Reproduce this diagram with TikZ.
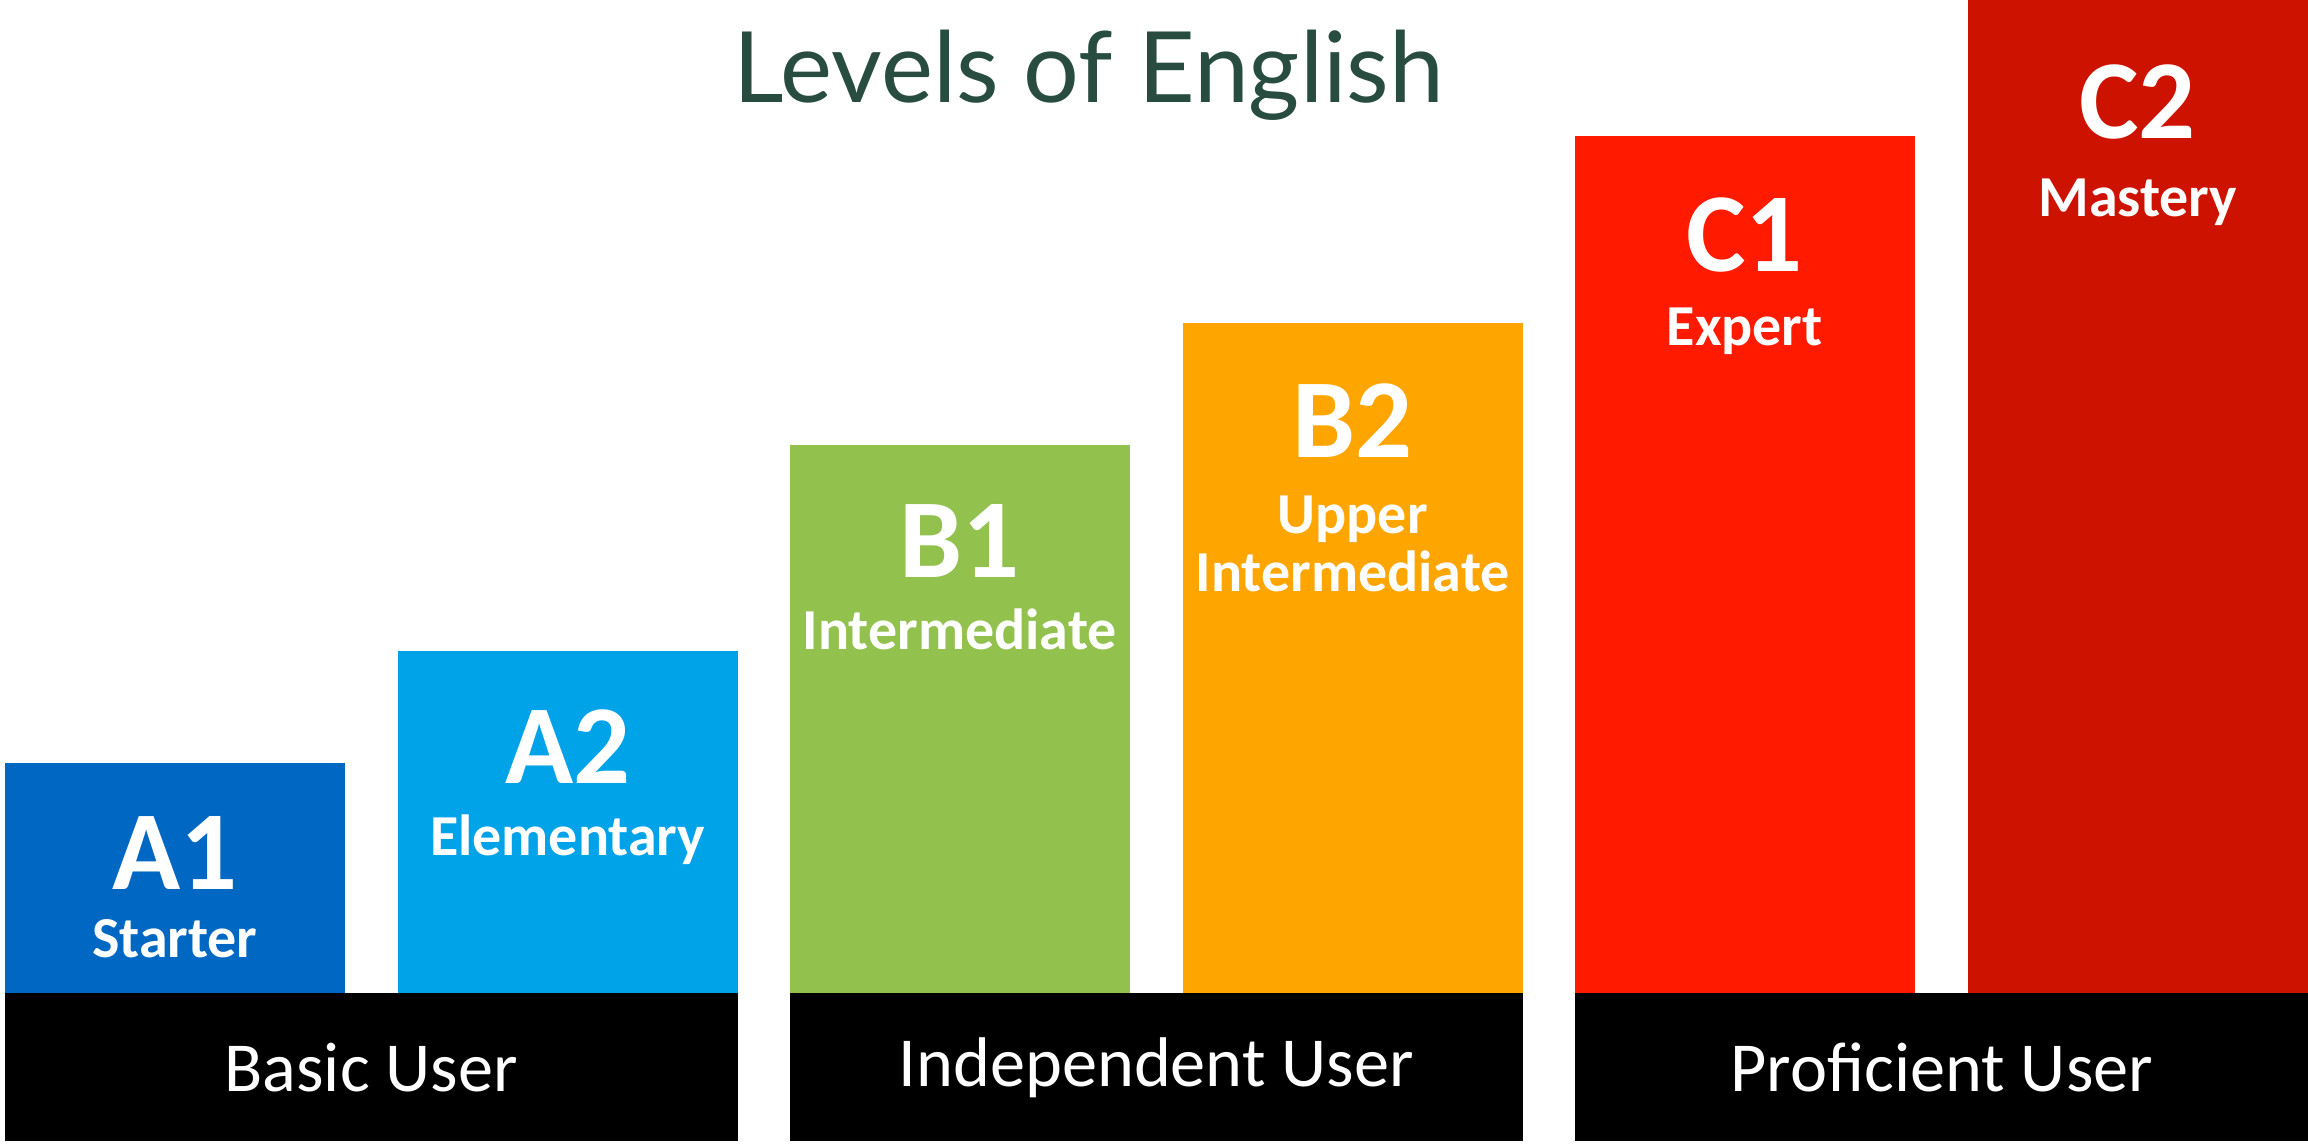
\documentclass[tikz,border=0pt]{standalone}
\usepackage{fontspec}
\setmainfont{Carlito}
\newfontfamily\titlefont{Lato}
\usepackage{xcolor}
\usepackage{tikz}
\usetikzlibrary{positioning}

\definecolor{aone}{HTML}{0067C2}
\definecolor{atwo}{HTML}{00A2E8}
\definecolor{bone}{HTML}{92C14E}
\definecolor{btwo}{HTML}{FFA500}
\definecolor{cone}{HTML}{FF1A00}
\definecolor{ctwo}{HTML}{CD1200}
\definecolor{titlegreen}{HTML}{284D40}

\tikzset{
  levelbox/.style={rectangle, anchor=south west, minimum width=3.40cm, inner sep=0pt},
  levelcode/.style={text=white, inner sep=0pt, font=\bfseries\fontsize{32}{32}\selectfont},
  levelname/.style={text=white, inner sep=0pt, align=center, font=\bfseries\fontsize{16.5}{16.5}\selectfont},
  userbar/.style={rectangle, fill=black, text=white, anchor=south west, minimum height=1.48cm, inner sep=0pt, font=\fontsize{20}{24}\selectfont},
}

\begin{document}
\begin{tikzpicture}
  \useasboundingbox (0,0) rectangle (23.08,11.46);

  \node (title) at (10.89,10.43) [anchor=base, text=titlegreen, font=\titlefont\fontsize{28}{30}\selectfont] {Levels of English};

  % level boxes
  \node (a1) at (0.04,1.52) [levelbox, fill=aone, minimum height=2.30cm] {};
  \node (a2) at (3.97,1.52) [levelbox, fill=atwo, minimum height=3.42cm] {};
  \node (b1) at (7.89,1.52) [levelbox, fill=bone, minimum height=5.48cm] {};
  \node (b2) at (11.82,1.52) [levelbox, fill=btwo, minimum height=6.70cm] {};
  \node (c1) at (15.74,1.52) [levelbox, fill=cone, minimum height=8.57cm] {};
  \node (c2) at (19.67,1.52) [levelbox, fill=ctwo, minimum height=9.94cm] {};

  % codes and names
  \node (a1code) at ([yshift=-0.90cm]a1.north) [levelcode] {A1};
  \node (a1name) at ([yshift=-0.86cm]a1code.center) [levelname] {Starter};
  \node (a2code) at ([yshift=-0.96cm]a2.north) [levelcode] {A2};
  \node (a2name) at ([yshift=-0.93cm]a2code.center) [levelname] {Elementary};
  \node (b1code) at ([yshift=-0.96cm]b1.north) [levelcode] {B1};
  \node (b1name) at ([yshift=-0.89cm]b1code.center) [levelname] {Intermediate};
  \node (b2code) at ([yshift=-0.98cm]b2.north) [levelcode] {B2};
  \node (b2name) at ([yshift=-1.23cm]b2code.center) [levelname] {Upper\\Intermediate};
  \node (c1code) at ([yshift=-0.99cm]c1.north) [levelcode] {C1};
  \node (c1name) at ([yshift=-0.97cm]c1code.center) [levelname] {Expert};
  \node (c2code) at ([yshift=-1.03cm]c2.north) [levelcode] {C2};
  \node (c2name) at ([yshift=-1.01cm]c2code.center) [levelname] {Mastery};

  % user bars
  \node (basic) at (0.04,0.04) [userbar, minimum width=7.33cm] {Basic User};
  \node (independent) at (7.89,0.04) [userbar, minimum width=7.33cm] {Independent User};
  \node (proficient) at (15.74,0.04) [userbar, minimum width=7.34cm] {Proficient User};
\end{tikzpicture}
\end{document}
